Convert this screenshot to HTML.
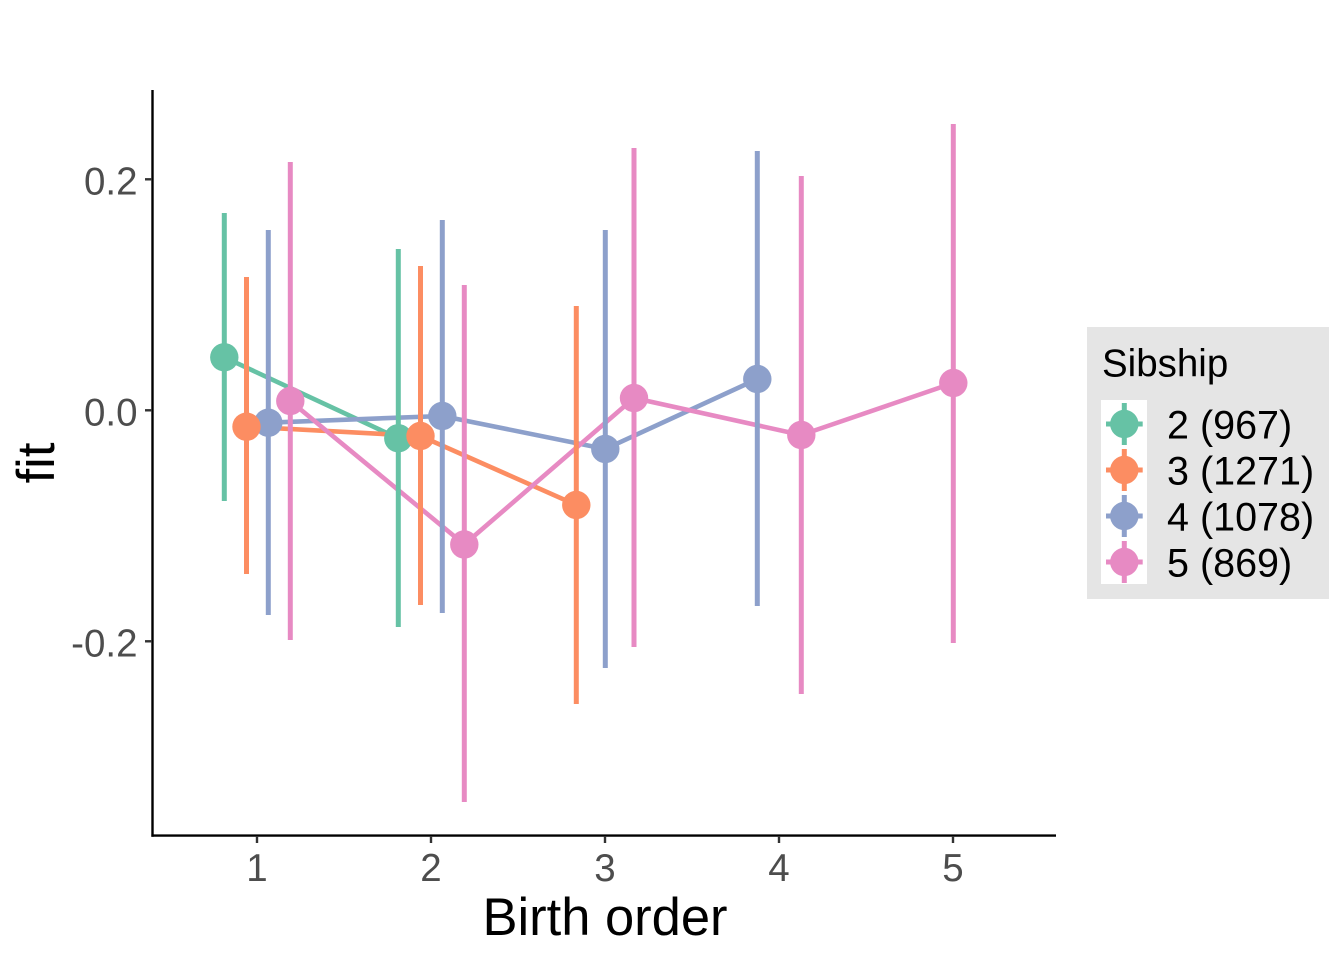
<!DOCTYPE html>
<html>
<head>
<meta charset="utf-8">
<style>
  html, body { margin: 0; padding: 0; background: #ffffff; }
  svg { display: block; }
  text { font-family: "Liberation Sans", Arial, sans-serif; }
</style>
</head>
<body>
<svg width="1344" height="960" viewBox="0 0 1344 960" xmlns="http://www.w3.org/2000/svg">
  <rect x="0" y="0" width="1344" height="960" fill="#ffffff"/>

  <!-- connecting lines -->
  <g fill="none" stroke-width="4.6" stroke-linejoin="round">
    <polyline stroke="#66C2A5" points="224.3,357.3 398.3,438.3"/>
    <polyline stroke="#FC8D62" points="246.5,426.7 420.5,436 576.3,505"/>
    <polyline stroke="#8DA0CB" points="268.3,422.7 442.3,416 605.3,449 757.3,379"/>
    <polyline stroke="#E78AC3" points="290.3,401 464.3,544.5 634,398 801.3,435 953.3,383"/>
  </g>

  <!-- error bars -->
  <g stroke-width="5" stroke-linecap="butt">
    <line stroke="#66C2A5" x1="224.3" y1="213" x2="224.3" y2="501"/>
    <line stroke="#66C2A5" x1="398.3" y1="249" x2="398.3" y2="627"/>
    <line stroke="#FC8D62" x1="246.5" y1="277" x2="246.5" y2="574"/>
    <line stroke="#FC8D62" x1="420.5" y1="266" x2="420.5" y2="605"/>
    <line stroke="#FC8D62" x1="576.3" y1="306" x2="576.3" y2="704"/>
    <line stroke="#8DA0CB" x1="268.3" y1="230" x2="268.3" y2="615"/>
    <line stroke="#8DA0CB" x1="442.3" y1="220" x2="442.3" y2="613"/>
    <line stroke="#8DA0CB" x1="605.3" y1="230" x2="605.3" y2="668"/>
    <line stroke="#8DA0CB" x1="757.3" y1="151" x2="757.3" y2="606"/>
    <line stroke="#E78AC3" x1="290.3" y1="162" x2="290.3" y2="640"/>
    <line stroke="#E78AC3" x1="464.3" y1="285" x2="464.3" y2="802"/>
    <line stroke="#E78AC3" x1="634" y1="148" x2="634" y2="647"/>
    <line stroke="#E78AC3" x1="801.3" y1="176" x2="801.3" y2="694"/>
    <line stroke="#E78AC3" x1="953.3" y1="124" x2="953.3" y2="643"/>
  </g>

  <!-- points -->
  <g>
    <circle fill="#66C2A5" cx="224.3" cy="357.3" r="14.2"/>
    <circle fill="#66C2A5" cx="398.3" cy="438.3" r="14.2"/>
    <circle fill="#8DA0CB" cx="268.3" cy="422.7" r="14.2"/>
    <circle fill="#8DA0CB" cx="442.3" cy="416" r="14.2"/>
    <circle fill="#8DA0CB" cx="605.3" cy="449" r="14.2"/>
    <circle fill="#8DA0CB" cx="757.3" cy="379" r="14.2"/>
    <circle fill="#FC8D62" cx="246.5" cy="426.7" r="14.2"/>
    <circle fill="#FC8D62" cx="420.5" cy="436" r="14.2"/>
    <circle fill="#FC8D62" cx="576.3" cy="505" r="14.2"/>
    <circle fill="#E78AC3" cx="290.3" cy="401" r="14.2"/>
    <circle fill="#E78AC3" cx="464.3" cy="544.5" r="14.2"/>
    <circle fill="#E78AC3" cx="634" cy="398" r="14.2"/>
    <circle fill="#E78AC3" cx="801.3" cy="435" r="14.2"/>
    <circle fill="#E78AC3" cx="953.3" cy="383" r="14.2"/>
  </g>

  <!-- axes -->
  <line x1="152.5" y1="90" x2="152.5" y2="836.7" stroke="#000" stroke-width="2.4"/>
  <line x1="151.4" y1="835.6" x2="1056" y2="835.6" stroke="#000" stroke-width="2.4"/>

  <!-- y ticks -->
  <g stroke="#333333" stroke-width="2.4">
    <line x1="145" y1="179.3" x2="152" y2="179.3"/>
    <line x1="145" y1="410.3" x2="152" y2="410.3"/>
    <line x1="145" y1="641.3" x2="152" y2="641.3"/>
  </g>
  <g fill="#4D4D4D" font-size="38.5" text-anchor="end">
    <text x="137.5" y="194.3">0.2</text>
    <text x="137.5" y="425.3">0.0</text>
    <text x="137.5" y="656.3">-0.2</text>
  </g>

  <!-- x ticks -->
  <g stroke="#333333" stroke-width="2.4">
    <line x1="257" y1="836" x2="257" y2="843"/>
    <line x1="431" y1="836" x2="431" y2="843"/>
    <line x1="605" y1="836" x2="605" y2="843"/>
    <line x1="779" y1="836" x2="779" y2="843"/>
    <line x1="953" y1="836" x2="953" y2="843"/>
  </g>
  <g fill="#4D4D4D" font-size="38.5" text-anchor="middle">
    <text x="257" y="881">1</text>
    <text x="431" y="881">2</text>
    <text x="605" y="881">3</text>
    <text x="779" y="881">4</text>
    <text x="953" y="881">5</text>
  </g>

  <!-- axis titles -->
  <text x="605" y="935" font-size="52.5" text-anchor="middle" fill="#000">Birth order</text>
  <text transform="translate(54,463) rotate(-90)" font-size="52.5" text-anchor="middle" fill="#000">fit</text>

  <!-- legend -->
  <rect x="1087" y="327" width="242" height="272" fill="#E5E5E5"/>
  <text x="1102" y="376.5" font-size="38.5" fill="#000">Sibship</text>
  <rect x="1101" y="400" width="46" height="184" fill="#ffffff"/>

  <g stroke-width="5">
    <g stroke="#66C2A5">
      <line x1="1124.3" y1="403" x2="1124.3" y2="445"/>
      <line x1="1106" y1="424" x2="1142.7" y2="424"/>
    </g>
    <g stroke="#FC8D62">
      <line x1="1124.3" y1="449" x2="1124.3" y2="491"/>
      <line x1="1106" y1="470" x2="1142.7" y2="470"/>
    </g>
    <g stroke="#8DA0CB">
      <line x1="1124.3" y1="495" x2="1124.3" y2="537"/>
      <line x1="1106" y1="516" x2="1142.7" y2="516"/>
    </g>
    <g stroke="#E78AC3">
      <line x1="1124.3" y1="541" x2="1124.3" y2="583"/>
      <line x1="1106" y1="562" x2="1142.7" y2="562"/>
    </g>
  </g>
  <circle fill="#66C2A5" cx="1124.3" cy="424" r="14.2"/>
  <circle fill="#FC8D62" cx="1124.3" cy="470" r="14.2"/>
  <circle fill="#8DA0CB" cx="1124.3" cy="516" r="14.2"/>
  <circle fill="#E78AC3" cx="1124.3" cy="562" r="14.2"/>

  <g font-size="39.5" fill="#000">
    <text x="1167" y="438.5">2 (967)</text>
    <text x="1167" y="484.5">3 (1271)</text>
    <text x="1167" y="530.5">4 (1078)</text>
    <text x="1167" y="576.5">5 (869)</text>
  </g>
</svg>
</body>
</html>
